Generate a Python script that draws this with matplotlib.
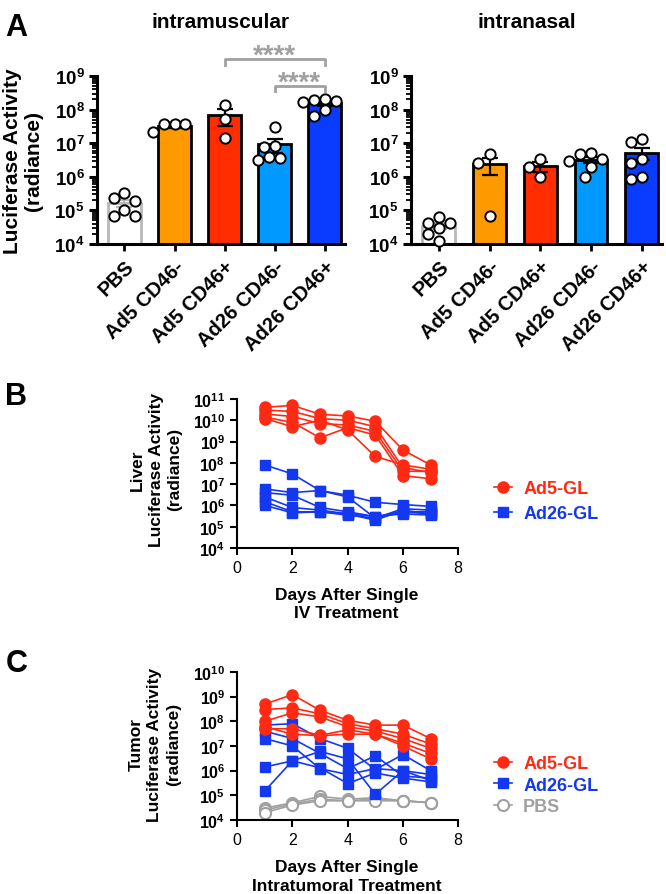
import numpy as np
import matplotlib
matplotlib.use('Agg')
from matplotlib import pyplot as plt
from matplotlib.ticker import LogLocator, FuncFormatter, NullFormatter, FixedLocator
from matplotlib.lines import Line2D

plt.rcParams['font.family'] = ['Liberation Sans', 'DejaVu Sans']
plt.rcParams['mathtext.fontset'] = 'custom'
plt.rcParams['mathtext.rm'] = 'Liberation Sans'
plt.rcParams['mathtext.bf'] = 'Liberation Sans:bold'

# ---- panel A data ----
groups = ['PBS', 'Ad5 CD46-', 'Ad5 CD46+', 'Ad26 CD46-', 'Ad26 CD46+']
bar_colors = ['white', '#FF9900', '#FF2D00', '#0099FF', '#0A3CFF']

im_vals = [
    [3.3e5, 1.9e5, 2.4e5, 7.0e4, 1.0e5, 7.0e4],
    [3.8e7, 3.6e7, 3.8e7, 2.1e7],
    [1.4e8, 5.4e7, 1.4e7],
    [3.0e7, 8.0e6, 7.5e6, 3.5e6, 3.2e6, 3.8e6],
    [1.9e8, 2.1e8, 1.7e8, 1.8e8, 6.5e7, 9.5e7],
]
in_vals = [
    [4.2e4, 4.3e4, 6.5e4, 3.0e4, 2.0e4, 1.2e4],
    [4.6e6, 2.6e6, 6.8e4],
    [3.4e6, 1.9e6, 1.0e6],
    [3.4e6, 4.7e6, 5.0e6, 3.0e6, 2.0e6, 1.0e6],
    [1.07e7, 1.3e7, 2.5e6, 3.3e6, 8.5e5, 1.0e6],
]

# ---- panel B/C data (one list per mouse, days 1..7) ----
days = [1, 2, 3, 4, 5, 6, 7]

liver_ad5 = [
    [4.0e10, 5.0e10, 1.9e10, 1.6e10, 9.0e9, 4.0e8, 8.0e7],
    [3.0e10, 2.6e10, 1.2e10, 1.0e10, 5.0e9, 6.0e7, 3.5e7],
    [2.0e10, 1.5e10, 7.0e9, 6.0e9, 3.0e9, 4.0e7, 4.0e7],
    [1.4e10, 8.0e9, 1.5e9, 4.5e9, 2.0e9, 2.5e7, 1.8e7],
    [1.2e10, 5.0e9, 1.0e10, 3.5e9, 2.0e8, 8.0e7, 5.0e7],
]
liver_ad26 = [
    [8.0e7, 3.0e7, 5.0e6, 3.0e6, 1.4e6, 1.1e6, 9.0e5],
    [6.0e6, 4.0e6, 5.0e6, 2.5e6, 2.5e5, 7.0e5, 6.0e5],
    [4.0e6, 3.0e6, 8.0e5, 5.0e5, 3.0e5, 5.0e5, 5.0e5],
    [2.5e6, 8.0e5, 6.0e5, 4.0e5, 2.0e5, 6.0e5, 4.0e5],
    [1.5e6, 5.0e5, 5.0e5, 4.0e5, 3.0e5, 4.0e5, 3.5e5],
    [1.0e6, 4.5e5, 5.0e5, 3.5e5, 2.5e5, 5.0e5, 4.0e5],
]

tumor_ad5 = [
    [5.0e8, 1.2e9, 2.8e8, 1.1e8, 7.0e7, 7.0e7, 2.0e7],
    [3.0e8, 3.5e8, 2.0e8, 8.0e7, 5.0e7, 3.0e7, 1.2e7],
    [1.0e8, 2.2e8, 1.5e8, 6.0e7, 4.0e7, 2.0e7, 8.0e6],
    [5.0e7, 5.0e7, 2.7e7, 4.5e7, 3.0e7, 1.3e7, 5.0e6],
    [6.0e7, 3.0e7, 2.6e7, 3.0e7, 3.0e7, 1.0e7, 3.0e6],
]
tumor_ad26 = [
    [7.0e7, 8.0e7, 2.0e7, 8.0e6, 1.1e6, 4.5e6, 1.0e6],
    [4.0e7, 2.0e7, 5.0e6, 1.2e6, 4.0e6, 6.0e5, 5.0e5],
    [2.0e7, 1.0e7, 1.2e6, 7.0e5, 1.2e6, 1.0e6, 7.0e5],
    [1.4e6, 2.5e6, 6.0e6, 3.0e6, 1.1e5, 1.0e6, 4.0e5],
    [1.5e5, 2.5e6, 1.3e6, 3.0e5, 8.0e5, 5.0e5, 3.5e5],
]
tumor_pbs = [
    [3.0e4, 5.0e4, 9.0e4, 7.0e4, 8.0e4, 6.0e4, 5.0e4],
    [2.5e4, 4.5e4, 7.0e4, 6.0e4, 7.0e4, 6.0e4, 5.0e4],
    [2.0e4, 4.0e4, 6.0e4, 6.0e4, 6.0e4, 6.0e4, 5.0e4],
]

RED = '#FF2A14'
BLUE = '#1438F0'
GRAY = '#A0A0A0'


def swarm(vals, px_unit=50.5, px_dec=33.5, diam=11.0):
    # simple beeswarm offsets (in bar units) so the dots do not overlap
    y = np.log10(vals) * px_dec
    xs = np.zeros(len(vals))
    placed = []
    for i in np.argsort(-y):
        for step in range(0, 20):
            found = False
            for sign in ([1] if step == 0 else [-1, 1]):
                cand = sign * step * diam / 2.0
                ok = all((cand - px) ** 2 + (y[i] - py) ** 2 >= diam ** 2 for px, py in placed)
                if ok:
                    xs[i] = cand
                    placed.append((cand, y[i]))
                    found = True
                    break
            if found:
                break
    return xs / px_unit


def pow_fmt(v, pos):
    if v <= 0:
        return ''
    return r'$\mathbf{10^{%d}}$' % int(round(np.log10(v)))


def bar_panel(ax, vals):
    ax.set_yscale('log')
    x = np.arange(len(groups))
    for i in x:
        v = np.array(vals[i])
        m = v.mean()
        sem = v.std(ddof=1) / np.sqrt(len(v))
        edge = '#B8B8B8' if i == 0 else 'black'
        ax.bar(i, m - 1e4, bottom=1e4, width=0.65, color=bar_colors[i],
               edgecolor=edge, linewidth=2, zorder=2)
        ax.errorbar(i, m, yerr=sem, fmt='none', ecolor=edge, capsize=6,
                    elinewidth=1.6, capthick=1.6, zorder=3)
        ax.scatter(i + swarm(v), v, s=55, facecolor='white', edgecolor='black',
                   linewidths=1.4, zorder=4, clip_on=False)
    ax.set_ylim(1e4, 1e9)
    ax.set_xlim(-0.55, 4.4)
    ax.yaxis.set_major_locator(LogLocator(base=10, numticks=20))
    ax.yaxis.set_minor_locator(LogLocator(base=10, subs=np.arange(2, 10), numticks=20))
    ax.yaxis.set_major_formatter(FuncFormatter(pow_fmt))
    ax.yaxis.set_minor_formatter(NullFormatter())
    ax.set_xticks(x)
    ax.set_xticklabels(groups, rotation=45, ha='right', rotation_mode='anchor',
                       fontsize=14.5, fontweight='bold')
    for s in ['top', 'right']:
        ax.spines[s].set_visible(False)
    for s in ['left', 'bottom']:
        ax.spines[s].set_linewidth(2.2)
    ax.tick_params(axis='y', which='major', length=6, width=2.2, labelsize=13.5, pad=3)
    ax.tick_params(axis='y', which='minor', length=3.5, width=1.3)
    ax.tick_params(axis='x', length=5, width=2, pad=4)


def line_panel(ax, top_exp):
    ax.set_yscale('log')
    ax.set_ylim(1e4, 10.0 ** top_exp)
    ax.set_xlim(0, 8)
    ax.set_xticks([0, 2, 4, 6, 8])
    ax.yaxis.set_major_locator(FixedLocator([10.0 ** k for k in range(4, top_exp + 1)]))
    ax.yaxis.set_minor_locator(FixedLocator([]))
    ax.yaxis.set_major_formatter(FuncFormatter(pow_fmt))
    for s in ['top', 'right']:
        ax.spines[s].set_visible(False)
    for s in ['left', 'bottom']:
        ax.spines[s].set_linewidth(1.5)
    ax.tick_params(axis='y', length=5, width=1.5, labelsize=11.5)
    ax.tick_params(axis='x', length=5, width=1.5, labelsize=11.5)


fig = plt.figure(figsize=(6.66, 8.95), dpi=100)

# ---- A ----
axL = fig.add_axes([0.1456, 0.7263, 0.372, 0.1877])
bar_panel(axL, im_vals)
axR = fig.add_axes([0.617, 0.7263, 0.377, 0.1877])
bar_panel(axR, in_vals)


def bracket(ax, x1, x2, y, txt):
    h = y / 1.45
    ax.plot([x1, x1, x2, x2], [h, y, y, h], color=GRAY, lw=2, clip_on=False, zorder=5)
    ax.text((x1 + x2) / 2, y * 10 ** 0.1, txt, ha='center', va='center', color=GRAY,
            fontsize=20, fontweight='bold', clip_on=False)


bracket(axL, 2, 4, 10 ** 9.5, '****')
bracket(axL, 3, 4, 10 ** 8.7, '****')

fig.text(221 / 666, 0.975, 'intramuscular', ha='center', va='center', fontsize=15, fontweight='bold')
fig.text(527 / 666, 0.975, 'intranasal', ha='center', va='center', fontsize=15, fontweight='bold')
fig.text(23 / 666, 0.82, 'Luciferase Activity\n(radiance)', rotation=90, ha='center', va='center',
         fontsize=15, fontweight='bold', linespacing=1.1)

# ---- B ----
axB = fig.add_axes([0.356, 0.3866, 0.332, 0.1665])
line_panel(axB, 11)
for row in liver_ad5:
    axB.plot(days, row, '-o', color=RED, ms=8, lw=1.2, zorder=3, clip_on=False)
for row in liver_ad26:
    axB.plot(days, row, '-s', color=BLUE, ms=7.5, lw=1.2, zorder=2, clip_on=False)
fig.text(156 / 666, 0.475, 'Liver\nLuciferase Activity\n(radiance)', rotation=90, ha='center', va='center',
         fontsize=12.5, fontweight='bold', linespacing=1.3)
fig.text(0.52, 0.3246, 'Days After Single\nIV Treatment', ha='center', va='center',
         fontsize=12.5, fontweight='bold', linespacing=1.3)
hB = [Line2D([], [], color=RED, marker='o', ms=8, lw=1.2),
      Line2D([], [], color=BLUE, marker='s', ms=7.5, lw=1.2)]
axB.legend(hB, ['Ad5-GL', 'Ad26-GL'], loc='upper left', bbox_to_anchor=(478 / 666, 1 - 465 / 895),
           bbox_transform=fig.transFigure, frameon=False, handlelength=1.0, handletextpad=0.6,
           labelspacing=0.45, labelcolor='linecolor', prop={'weight': 'bold', 'size': 13})

# ---- C ----
axC = fig.add_axes([0.356, 0.0827, 0.332, 0.1654])
line_panel(axC, 10)
for row in tumor_pbs:
    axC.plot(days, row, '-o', color=GRAY, mfc='white', mec=GRAY, mew=1.5, ms=8, lw=1.2, zorder=1, clip_on=False)
for row in tumor_ad26:
    axC.plot(days, row, '-s', color=BLUE, ms=7.5, lw=1.2, zorder=2, clip_on=False)
for row in tumor_ad5:
    axC.plot(days, row, '-o', color=RED, ms=8, lw=1.2, zorder=3, clip_on=False)
fig.text(155 / 666, 0.168, 'Tumor\nLuciferase Activity\n(radiance)', rotation=90, ha='center', va='center',
         fontsize=12.5, fontweight='bold', linespacing=1.3)
fig.text(0.52, 0.02, 'Days After Single\nIntratumoral Treatment', ha='center', va='center',
         fontsize=12.5, fontweight='bold', linespacing=1.3)
hC = [Line2D([], [], color=RED, marker='o', ms=8, lw=1.2),
      Line2D([], [], color=BLUE, marker='s', ms=7.5, lw=1.2),
      Line2D([], [], color=GRAY, marker='o', mfc='white', mec=GRAY, mew=1.5, ms=8, lw=1.2)]
axC.legend(hC, ['Ad5-GL', 'Ad26-GL', 'PBS'], loc='upper left', bbox_to_anchor=(478 / 666, 1 - 740 / 895),
           bbox_transform=fig.transFigure, frameon=False, handlelength=1.0, handletextpad=0.6,
           labelspacing=0.25, labelcolor='linecolor', prop={'weight': 'bold', 'size': 13})

# panel letters
fig.text(0.008, 0.985, 'A', fontsize=22, fontweight='bold', va='top')
fig.text(0.008, 0.573, 'B', fontsize=22, fontweight='bold', va='top')
fig.text(0.008, 0.275, 'C', fontsize=22, fontweight='bold', va='top')

fig.savefig('out.png', dpi=100)
